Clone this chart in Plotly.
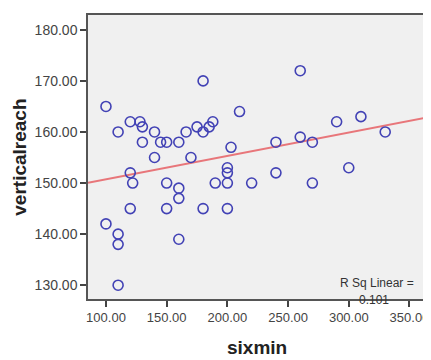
import numpy as np
import plotly.graph_objects as go

sixmin = [100, 100, 110, 110, 110, 110, 120, 120, 122, 120, 128, 130, 130, 140, 140,
          145, 150, 150, 150, 160, 160, 160, 160, 166, 170, 175, 180, 180, 180, 185,
          188, 190, 200, 200, 200, 200, 203, 210, 220, 240, 240, 260, 260, 270, 270,
          290, 300, 310, 330]
verticalreach = [165, 142, 160, 140, 138, 130, 162, 152, 150, 145, 162, 161, 158, 160, 155,
                 158, 158, 150, 145, 158, 149, 147, 139, 160, 155, 161, 170, 160, 145, 161,
                 162, 150, 153, 152, 150, 145, 157, 164, 150, 158, 152, 172, 159, 158, 150,
                 162, 153, 163, 160]

x_ticks = [100, 150, 200, 250, 300, 350]
y_ticks = [130, 140, 150, 160, 170, 180]
x_range = [85.2, 363.6]
y_range = [127.3, 182.9]
r_sq_label = "R Sq Linear ="
r_sq_value = "0.101"

slope, intercept = np.polyfit(sixmin, verticalreach, 1)
fit_x = np.array(x_range)
fit_y = intercept + slope * fit_x

fig = go.Figure()
fig.add_trace(go.Scatter(
    x=fit_x, y=fit_y, mode="lines",
    line=dict(color="#E8767A", width=2), hoverinfo="skip", showlegend=False,
))
fig.add_trace(go.Scatter(
    x=sixmin, y=verticalreach, mode="markers",
    marker=dict(symbol="circle-open", size=10, color="#4242B5", line=dict(width=1.6, color="#4242B5")),
    showlegend=False,
))

font_family = "Liberation Sans, Arial, sans-serif"
axis_common = dict(
    showgrid=False, zeroline=False, showline=True, linecolor="#555555", linewidth=1.5,
    mirror=True, ticks="outside", ticklen=6, tickwidth=1.5, tickcolor="#444444",
    tickformat=".2f", automargin=False,
)
fig.update_xaxes(range=x_range, tickvals=x_ticks,
                 tickfont=dict(family=font_family, size=13, color="#444444"), **axis_common)
fig.update_yaxes(range=y_range, tickvals=y_ticks,
                 tickfont=dict(family=font_family, size=14, color="#444444"), **axis_common)

fig.add_annotation(text="<b>sixmin</b>", xref="paper", yref="paper", x=0.5, y=-0.17,
                   xanchor="center", yanchor="middle", showarrow=False,
                   font=dict(family=font_family, size=19, color="#222222"))
fig.add_annotation(text="<b>verticalreach</b>", xref="paper", yref="paper", x=-0.205, y=0.5,
                   xanchor="center", yanchor="middle", textangle=-90, showarrow=False,
                   font=dict(family=font_family, size=19, color="#222222"))
fig.add_annotation(text=r_sq_label, xref="paper", yref="paper", x=0.855, y=0.058,
                   xanchor="center", yanchor="middle", showarrow=False,
                   font=dict(family=font_family, size=12, color="#333333"))
fig.add_annotation(text=r_sq_value, xref="paper", yref="paper", x=0.845, y=-0.004,
                   xanchor="center", yanchor="middle", showarrow=False,
                   font=dict(family=font_family, size=12, color="#333333"))

# The page body has an 8px default margin, so the figure is sized to fit the window.
fig.update_layout(
    width=423, height=352,
    margin=dict(l=80, r=5, t=7, b=61),
    plot_bgcolor="#F0F0F0", paper_bgcolor="#FFFFFF",
)
fig.write_html("out.html")
